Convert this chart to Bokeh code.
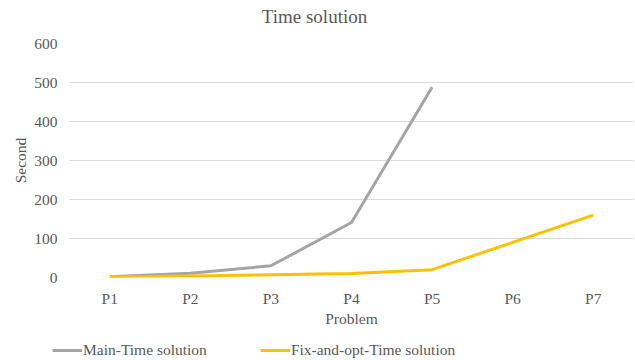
from bokeh.plotting import figure
from bokeh.layouts import column
from bokeh.models import FactorRange, Range1d, FixedTicker, Legend, LegendItem
from bokeh.core.properties import value
from bokeh.embed import file_html
from bokeh.resources import INLINE

# Problem instances and solve times (seconds)
problems = ["P1", "P2", "P3", "P4", "P5", "P6", "P7"]
main_problems = ["P1", "P2", "P3", "P4", "P5"]
main_time = [2, 11, 30, 141, 488]
fix_opt_time = [1, 4, 7, 10, 20, 90, 160]
y_ticks = [0, 100, 200, 300, 400, 500, 600]
series_names = ["Main-Time solution", "Fix-and-opt-Time solution"]
series_colors = ["#A5A5A5", "#FFC000"]
chart_title = "Time solution"

FONT = "Liberation Serif"
TEXT = "#595959"
SIZE = "15.5px"
W = 635
HEAD_H, LEG_H, MAIN_H = 33, 25, 302


def strip(height):
    """A bare full-width figure used for the title and legend bands."""
    f = figure(
        width=W, height=height,
        x_range=Range1d(0, W), y_range=Range1d(0, height),
        x_axis_type=None, y_axis_type=None,
        output_backend="svg", toolbar_location=None,
        min_border=0, min_border_left=0, min_border_right=0,
        min_border_top=0, min_border_bottom=0,
    )
    f.outline_line_color = None
    f.grid.grid_line_color = None
    f.background_fill_color = "white"
    f.border_fill_color = "white"
    return f


# Title band
head = strip(HEAD_H)
head.text(x=[314], y=[HEAD_H - 16], text=[chart_title],
          text_align="center", text_baseline="middle",
          text_font=value(FONT), text_font_size="19px", text_color=TEXT)

# Main chart
p = figure(
    width=W, height=MAIN_H,
    x_range=FactorRange(*problems, range_padding=0),
    y_range=Range1d(0, 600),
    output_backend="svg", toolbar_location=None,
    min_border_left=69, min_border_right=2,
    min_border_top=10, min_border_bottom=58,
)
p.outline_line_color = None
p.background_fill_color = "white"
p.border_fill_color = "white"

p.yaxis.ticker = FixedTicker(ticks=y_ticks)
for ax in (p.xaxis[0], p.yaxis[0]):
    ax.axis_line_color = None
    ax.major_tick_line_color = None
    ax.minor_tick_line_color = None
    ax.major_tick_out = 0
    ax.major_tick_in = 0
    ax.major_label_text_font = FONT
    ax.major_label_text_font_size = SIZE
    ax.major_label_text_color = TEXT
    ax.axis_label_text_font = FONT
    ax.axis_label_text_font_size = SIZE
    ax.axis_label_text_font_style = "normal"
    ax.axis_label_text_color = TEXT

p.xaxis.axis_label = "Problem"
p.yaxis.axis_label = "Second"
p.yaxis.major_label_standoff = 12
p.yaxis.axis_label_standoff = 2
p.xaxis.major_label_standoff = 12
p.xaxis.axis_label_standoff = 0

p.xgrid.grid_line_color = None
p.ygrid.grid_line_color = "#D9D9D9"
p.ygrid.grid_line_width = 1

p.line(main_problems, main_time, line_color=series_colors[0], line_width=3)
p.line(problems, fix_opt_time, line_color=series_colors[1], line_width=3)

# Legend band underneath the chart
lg = strip(LEG_H)
items = []
for name, color in zip(series_names, series_colors):
    # off-range sample so the renderer carries the line style for its legend swatch
    r = lg.line(x=[-20, -10], y=[-20, -20], line_color=color, line_width=3)
    items.append(LegendItem(label=name, renderers=[r]))

legend = Legend(
    items=items,
    orientation="horizontal",
    location=(52, 1),
    padding=0, margin=0, spacing=53,
    glyph_width=30, glyph_height=16, label_standoff=1,
    label_text_font=FONT, label_text_font_size=SIZE, label_text_color=TEXT,
    background_fill_alpha=0, border_line_color=None,
)
lg.add_layout(legend, "center")

layout = column(column(head), p, column(lg), spacing=0)
open("out.html", "w").write(file_html(layout, INLINE))
